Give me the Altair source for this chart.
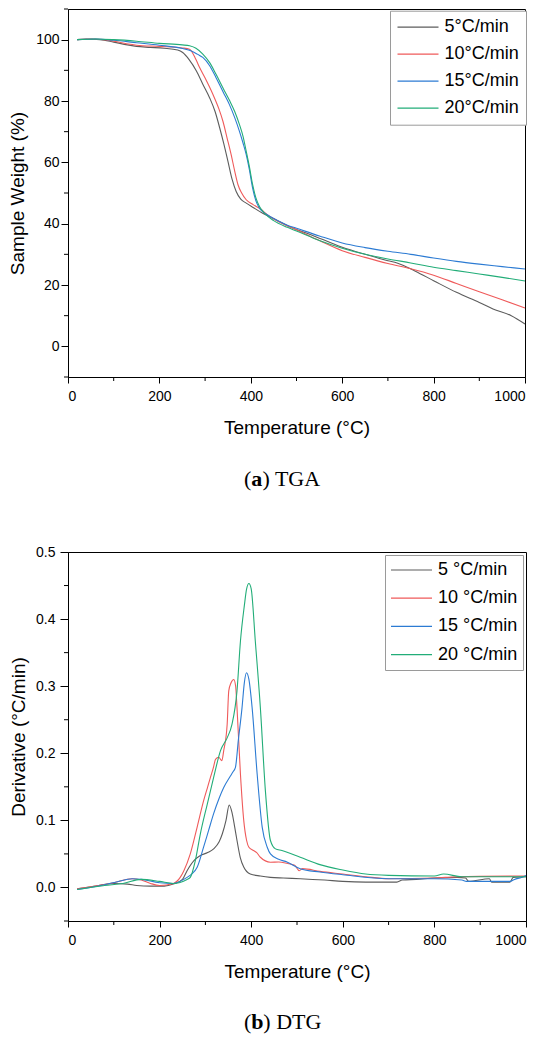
import altair as alt
import pandas as pd

# ---------------- data ----------------
tga_names = ["5°C/min", "10°C/min", "15°C/min", "20°C/min"]
dtg_names = ["5 °C/min", "10 °C/min", "15 °C/min", "20 °C/min"]
colors = ["#5c5c5c", "#ef5a5a", "#2c7bd3", "#22ad78"]

# TGA: temperature (°C) and sample weight (%)
tga_t_5 = [20, 40, 70, 100, 130, 150, 180, 210, 240, 251, 265, 281, 295, 310, 322, 332, 341, 350, 359, 368,
           378, 390, 405, 426, 455, 485, 530, 600, 650, 700, 720, 760, 800, 850, 900, 930, 970, 1000]
tga_w_5 = [100, 100.2, 100, 99.2, 98.3, 97.8, 97.5, 97.2, 96.6, 95.8, 93.5, 89.8, 85.5, 81, 76.5, 71.2, 66, 60.3, 54.5, 50.5,
           48, 46.7, 45.3, 43.4, 41.3, 39, 36.5, 32.3, 30, 27.9, 27.2, 24.5, 21.4, 17.6, 14.3, 12.2, 10, 7.3]

tga_t_10 = [20, 50, 80, 100, 150, 200, 250, 266, 280, 288, 300, 317, 330, 339, 348, 357, 365, 372, 380, 390,
            405, 419, 440, 470, 500, 550, 600, 650, 700, 750, 800, 850, 900, 950, 1000]
tga_w_10 = [100, 100.2, 100, 99.5, 98.2, 97.8, 97.3, 96.9, 93.5, 90.9, 87.5, 82.2, 77.5, 73.4, 68, 62.5, 57, 52.7, 50, 47.8,
            46.2, 45, 42.5, 40, 38, 34.5, 31.2, 29, 27, 25.3, 23.2, 20.5, 17.8, 15.2, 12.5]

tga_t_15 = [20, 60, 100, 150, 200, 251, 270, 284, 295, 310, 324, 340, 353, 365, 375, 383, 390, 397, 404, 411,
            419, 435, 456, 480, 500, 550, 600, 650, 700, 750, 800, 850, 900, 950, 1000]
tga_w_15 = [100, 100.2, 99.8, 99, 98.2, 97.1, 96.3, 95.2, 94.2, 91.5, 87.6, 82.8, 78.9, 74.5, 70.2, 66.3, 62.5, 57.5, 51.6, 47.5,
            45, 43, 41.2, 39.5, 38.5, 36, 33.7, 32.2, 31, 30, 28.8, 27.7, 26.8, 26, 25.2]

tga_t_20 = [20, 60, 100, 150, 200, 250, 266, 280, 295, 310, 324, 340, 353, 365, 375, 383, 390, 397, 404, 411,
            419, 430, 450, 480, 500, 550, 600, 650, 700, 750, 800, 850, 900, 950, 1000]
tga_w_20 = [100, 100.2, 100, 99.5, 98.8, 98.3, 98, 97.2, 95.3, 92.5, 88.7, 84, 80.3, 76.5, 72.4, 68.5, 63.6, 58.5, 52.7, 48.5,
            45.6, 43.4, 41, 38.8, 37.6, 34.5, 32, 30, 28.5, 27.2, 25.8, 24.7, 23.6, 22.5, 21.3]

# DTG: temperature (°C) and derivative
dtg_t_5 = [20, 50, 100, 130, 150, 180, 210, 230, 250, 260, 275, 289, 305, 318, 330, 337, 345, 352, 358, 364,
           369, 376, 384, 398, 420, 442, 470, 507, 560, 600, 650, 700, 718, 730, 760, 800, 850, 868, 875, 920,
           925, 965, 972, 1000]
dtg_d_5 = [-0.002, 0.001, 0.006, 0.005, 0.003, 0.002, 0.002, 0.005, 0.012, 0.025, 0.04, 0.0475, 0.052, 0.0575, 0.068, 0.08, 0.1, 0.123, 0.112, 0.09,
           0.07, 0.045, 0.03, 0.02, 0.017, 0.015, 0.014, 0.013, 0.011, 0.009, 0.008, 0.008, 0.008, 0.011, 0.012, 0.014, 0.015, 0.014, 0.009, 0.013,
           0.008, 0.008, 0.015, 0.016]

dtg_t_10 = [20, 60, 100, 140, 160, 180, 200, 230, 245, 253, 267, 282, 296, 305, 311, 318, 322, 329, 336, 340,
            347.5, 351, 356, 362, 366, 369, 376.5, 383.7, 390, 395, 405, 412, 420, 442, 460, 478, 495, 505, 512, 550,
            600, 650, 700, 800, 850, 1000]
dtg_d_10 = [-0.002, 0.002, 0.007, 0.013, 0.011, 0.006, 0.003, 0.006, 0.015, 0.025, 0.05, 0.09, 0.129, 0.15, 0.164, 0.18, 0.191, 0.194, 0.189, 0.204,
            0.243, 0.293, 0.305, 0.31, 0.3, 0.268, 0.169, 0.1, 0.07, 0.06, 0.055, 0.052, 0.045, 0.0376, 0.038, 0.036, 0.033, 0.025, 0.028, 0.024,
            0.02, 0.016, 0.013, 0.014, 0.016, 0.017]

dtg_t_15 = [20, 80, 110, 140, 160, 200, 230, 260, 270, 282, 296, 307, 318, 330, 340, 354.6, 360, 365.6, 372, 380,
            385, 389.6, 395, 402, 413, 424, 435, 442, 460, 478, 507, 550, 600, 700, 800, 860, 870, 965, 975, 990, 1000]
dtg_d_15 = [-0.003, 0.004, 0.009, 0.013, 0.012, 0.007, 0.006, 0.015, 0.02, 0.03, 0.06, 0.085, 0.11, 0.133, 0.149, 0.166, 0.172, 0.179, 0.22, 0.268,
            0.305, 0.32, 0.31, 0.268, 0.169, 0.09, 0.06, 0.05, 0.042, 0.038, 0.028, 0.023, 0.019, 0.013, 0.013, 0.011, 0.009, 0.009, 0.012, 0.015, 0.018]

dtg_t_20 = [20, 80, 120, 160, 200, 230, 260, 267, 278, 289, 304, 318, 333, 347.5, 358, 369, 376.5, 385, 390, 395,
            400, 409, 420, 431, 442, 453, 467, 507, 550, 600, 650, 700, 800, 820, 860, 1000]
dtg_d_20 = [-0.003, 0.003, 0.006, 0.012, 0.009, 0.006, 0.012, 0.015, 0.04, 0.08, 0.124, 0.164, 0.204, 0.223, 0.243, 0.293, 0.367, 0.42, 0.445, 0.453,
            0.445, 0.367, 0.268, 0.144, 0.07, 0.0575, 0.055, 0.045, 0.034, 0.026, 0.02, 0.018, 0.017, 0.02, 0.016, 0.016]

x_ticks = [0, 200, 400, 600, 800, 1000]
x_minor = [100, 300, 500, 700, 900]
tga_ticks = [0, 20, 40, 60, 80, 100]
tga_minor = [-10, 10, 30, 50, 70, 90, 110]
dtg_ticks = [0.0, 0.1, 0.2, 0.3, 0.4, 0.5]
dtg_minor = [-0.05, 0.05, 0.15, 0.25, 0.35, 0.45]


def long_df(ts, vs, names, vname):
    rows = []
    for t, v, n in zip(ts, vs, names):
        for a, b in zip(t, v):
            rows.append({"T": a, vname: b, "s": n})
    return pd.DataFrame(rows)


tga_df = long_df([tga_t_5, tga_t_10, tga_t_15, tga_t_20], [tga_w_5, tga_w_10, tga_w_15, tga_w_20], tga_names, "W")
dtg_df = long_df([dtg_t_5, dtg_t_10, dtg_t_15, dtg_t_20], [dtg_d_5, dtg_d_10, dtg_d_15, dtg_d_20], dtg_names, "D")

SANS = "Liberation Sans"
SERIF = "Liberation Serif"


def panel(df, yf, ytitle, ydom, yvals, yminor, yfmt, names, W, H, ytick, ylp, ytp, xtp,
          legx, legy, rowpad, legpad, letter, rest, cap_y):
    xs = alt.Scale(domain=[0, 1000], nice=False, zero=False)
    ys = alt.Scale(domain=ydom, nice=False, zero=False)
    xaxis = alt.Axis(values=x_ticks, format="d", tickSize=6, labelPadding=6, titlePadding=xtp,
                     title="Temperature (°C)")
    yaxis = alt.Axis(values=yvals, format=yfmt, tickSize=ytick, labelPadding=ylp, titlePadding=ytp,
                     title=ytitle)
    lines = alt.Chart(df).mark_line(strokeWidth=1.1, interpolate="monotone").encode(
        x=alt.X("T:Q", scale=xs, axis=xaxis),
        y=alt.Y(f"{yf}:Q", scale=ys, axis=yaxis),
        color=alt.Color("s:N", sort=names, scale=alt.Scale(domain=names, range=colors),
                        legend=alt.Legend(title=None, orient="none", legendX=legx, legendY=legy,
                                          symbolType="stroke", symbolSize=1681, symbolStrokeWidth=1.2,
                                          labelFontSize=18, labelFont=SANS, labelColor="black",
                                          clipHeight=20,
                                          rowPadding=rowpad, padding=legpad, labelOffset=5,
                                          strokeColor="#9a9a9a", fillColor="white", labelLimit=0)),
    )
    xm = alt.Chart(pd.DataFrame({"T": x_minor})).mark_rule(color="black", strokeWidth=1).encode(
        x=alt.X("T:Q", scale=xs, axis=xaxis), y=alt.value(H), y2=alt.value(H + 4))
    ym = alt.Chart(pd.DataFrame({yf: yminor})).mark_rule(color="black", strokeWidth=1).encode(
        y=alt.Y(f"{yf}:Q", scale=ys, axis=yaxis), x=alt.value(-4), x2=alt.value(0))
    c1 = alt.Chart(pd.DataFrame({"c": ["("]})).mark_text(
        align="left", baseline="alphabetic", font=SERIF, fontSize=22, color="black").encode(
        x=alt.value(176), y=alt.value(cap_y), text="c:N")
    c2 = alt.Chart(pd.DataFrame({"c": [letter]})).mark_text(
        align="left", baseline="alphabetic", font=SERIF, fontSize=22, fontWeight="bold", color="black").encode(
        x=alt.value(183.3), y=alt.value(cap_y), text="c:N")
    c3 = alt.Chart(pd.DataFrame({"c": [rest]})).mark_text(
        align="left", baseline="alphabetic", font=SERIF, fontSize=22, color="black").encode(
        x=alt.value(194.5 if letter == "a" else 195.3), y=alt.value(cap_y), text="c:N")
    return alt.layer(lines, xm, ym, c1, c2, c3).properties(width=W, height=H)


top = panel(tga_df, "W", "Sample Weight (%)", [-10, 110], tga_ticks, tga_minor, "d", tga_names,
            457, 368, 7, 2, 8, 15.5, 322, 1.7, 7, 6.5, "a", ") TGA", 477)
bottom = panel(dtg_df, "D", "Derivative (°C/min)", [-0.05, 0.5], dtg_ticks, dtg_minor, ".1f", dtg_names,
               458, 369, 8, 5, 7, 15, 317, 3, 8.2, 5, "b", ") DTG", 477)

chart = alt.vconcat(top, bottom, spacing=53).resolve_scale(
    color="independent"
).resolve_legend(
    color="independent"
).properties(
    padding={"left": 0, "top": 0, "right": 0, "bottom": 0},
    background="white",
).configure_view(stroke="black", strokeWidth=1).configure_axis(
    grid=False, domainColor="black", domainWidth=1, tickColor="black", tickWidth=1,
    labelColor="black", titleColor="black", labelFont=SANS, titleFont=SANS,
    labelFontSize=14, titleFontSize=19, titleFontWeight="normal"
)

chart.save("out.html", embed_options={"renderer": "svg", "actions": False})
